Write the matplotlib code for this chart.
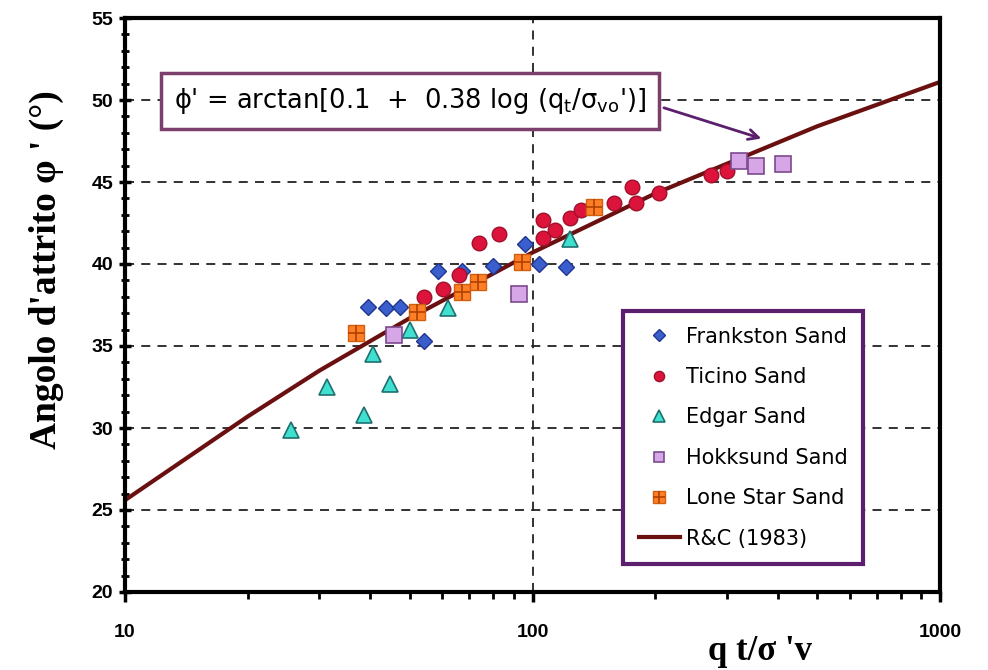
import matplotlib
matplotlib.use("Agg")
import matplotlib.pyplot as plt
from matplotlib.ticker import FixedLocator, NullFormatter, LogLocator
from matplotlib.legend_handler import HandlerTuple

# dati
frankston_x = [39.4, 43.6, 47.2, 58.5, 67.3, 79.8, 96.1, 54.1, 103.5, 121.1]
frankston_y = [37.4, 37.3, 37.4, 39.6, 39.6, 39.9, 41.2, 35.3, 40.0, 39.8]

ticino_x = [54.1, 60.2, 65.9, 73.8, 82.6, 106.4, 105.9, 113.3, 123.3, 131.3,
            158.1, 175.9, 179.8, 204.8, 274.6, 300.5]
ticino_y = [38.0, 38.5, 39.3, 41.3, 41.8, 42.7, 41.6, 42.1, 42.8, 43.3,
            43.7, 44.7, 43.7, 44.3, 45.4, 45.7]

edgar_x = [25.5, 31.3, 38.7, 40.7, 44.6, 50.0, 61.9, 123.3]
edgar_y = [29.9, 32.5, 30.8, 34.5, 32.7, 36.0, 37.3, 41.5]

hokksund_x = [45.6, 92.5, 321, 354, 412]
hokksund_y = [35.7, 38.2, 46.3, 46.0, 46.1]

lonestar_x = [36.8, 52.0, 67.3, 73.3, 94.0, 141.3]
lonestar_y = [35.8, 37.1, 38.3, 38.9, 40.1, 43.5]

rc_x = [10, 20, 30, 50, 100, 200, 500, 1000]
rc_y = [25.6, 30.7, 33.5, 36.7, 40.7, 44.3, 48.4, 51.1]

x_ticks = [10, 100, 1000]
y_ticks = [20, 25, 30, 35, 40, 45, 50, 55]

fig = plt.figure(figsize=(9.88, 6.70), dpi=100)
ax = fig.add_axes([125 / 988, 1 - 592 / 670, 815 / 988, 574 / 670])

ax.set_xscale("log")
ax.set_xlim(10, 1000)
ax.set_ylim(20, 55)

# griglia tratteggiata
for yv in [25, 30, 35, 40, 45, 50]:
    ax.axhline(yv, color="#222222", lw=1.3, ls=(0, (5, 4)), zorder=0)
ax.axvline(100, color="#222222", lw=1.3, ls=(0, (5, 4)), zorder=0)

h6, = ax.plot(rc_x, rc_y, color="#6b1010", lw=3, zorder=2)

h1, = ax.plot(frankston_x, frankston_y, ls="none", marker="D", ms=8.5,
              mfc="#3a5fcd", mec="#1f3590", mew=1, zorder=3)
h2, = ax.plot(ticino_x, ticino_y, ls="none", marker="o", ms=10.5,
              mfc="#dc143c", mec="#a0102a", mew=1, zorder=3)
h3, = ax.plot(edgar_x, edgar_y, ls="none", marker="^", ms=12,
              mfc="#40e0d0", mec="#1f6f6f", mew=1.2, zorder=3)
h4, = ax.plot(hokksund_x, hokksund_y, ls="none", marker="s", ms=11,
              mfc="#d7a6e6", mec="#7b4a8c", mew=1.2, zorder=3)
h5a, = ax.plot(lonestar_x, lonestar_y, ls="none", marker="s", ms=12,
               mfc="#ff7f27", mec="#d06010", mew=1, zorder=3)
h5b, = ax.plot(lonestar_x, lonestar_y, ls="none", marker="+", ms=12,
               mec="#b04000", mew=1.2, zorder=4)

leg = ax.legend([h1, h2, h3, h4, (h5a, h5b), h6],
                ["Frankston Sand", "Ticino Sand", "Edgar Sand",
                 "Hokksund Sand", "Lone Star Sand", "R&C (1983)"],
                handler_map={tuple: HandlerTuple(ndivide=1, pad=0)},
                loc="upper left", bbox_to_anchor=((623 - 125) / 815, (592 - 311) / 574),
                frameon=True, fancybox=False, framealpha=1, edgecolor="#5b1f6e",
                prop={"family": "DejaVu Sans", "size": 15}, labelspacing=0.98,
                handlelength=2.0, handletextpad=0.25, borderpad=0.75,
                borderaxespad=0, markerscale=0.7)
leg.get_frame().set_linewidth(3)
leg.set_zorder(5)

# riquadro con la formula
ax.text(0.06, 0.855,
        "\u03d5' = arctan[0.1  +  0.38 log (q$_\\mathregular{t}$/\u03c3$_\\mathregular{vo}$')]",
        transform=ax.transAxes, ha="left", va="center", fontsize=18.5,
        family="DejaVu Sans", zorder=6,
        bbox=dict(boxstyle="square,pad=0.5", fc="white", ec="#7b3f6b", lw=2.5))
ax.annotate("", xy=(370, 47.6), xytext=(0.658, 0.845), textcoords="axes fraction",
            arrowprops=dict(arrowstyle="->", color="#5b1f6e", lw=2, mutation_scale=18),
            zorder=6)

# assi e tacche
for s in ax.spines.values():
    s.set_linewidth(3)
ax.yaxis.set_major_locator(FixedLocator(y_ticks))
ax.yaxis.set_minor_locator(FixedLocator(range(20, 56)))
ax.xaxis.set_major_locator(FixedLocator(x_ticks))
ax.xaxis.set_minor_locator(LogLocator(base=10, subs=range(2, 10)))
ax.xaxis.set_minor_formatter(NullFormatter())
ax.set_xticklabels([str(v) for v in x_ticks])
ax.tick_params(axis="y", which="major", direction="inout", length=9, width=2.5,
               pad=4, labelsize=14)
ax.tick_params(axis="y", which="minor", direction="inout", length=6, width=2)
ax.tick_params(axis="x", which="major", direction="out", length=7, width=2.5,
               pad=16, labelsize=14)
ax.tick_params(axis="x", which="minor", direction="out", length=5, width=2)
for lab in ax.get_xticklabels() + ax.get_yticklabels():
    lab.set_fontfamily("Liberation Sans")
    lab.set_fontweight("bold")

fig.text(46 / 988, 1 - 270 / 670, "Angolo d'attrito \u03c6 ' (\u00b0)", rotation=90,
         ha="center", va="center", family="Liberation Serif", fontweight="bold",
         fontsize=27)
fig.text(760 / 988, 1 - 660 / 670, "q t/\u03c3 'v", ha="center", va="baseline",
         family="Liberation Serif", fontweight="bold", fontsize=25)

fig.savefig("out.png", dpi=100)
